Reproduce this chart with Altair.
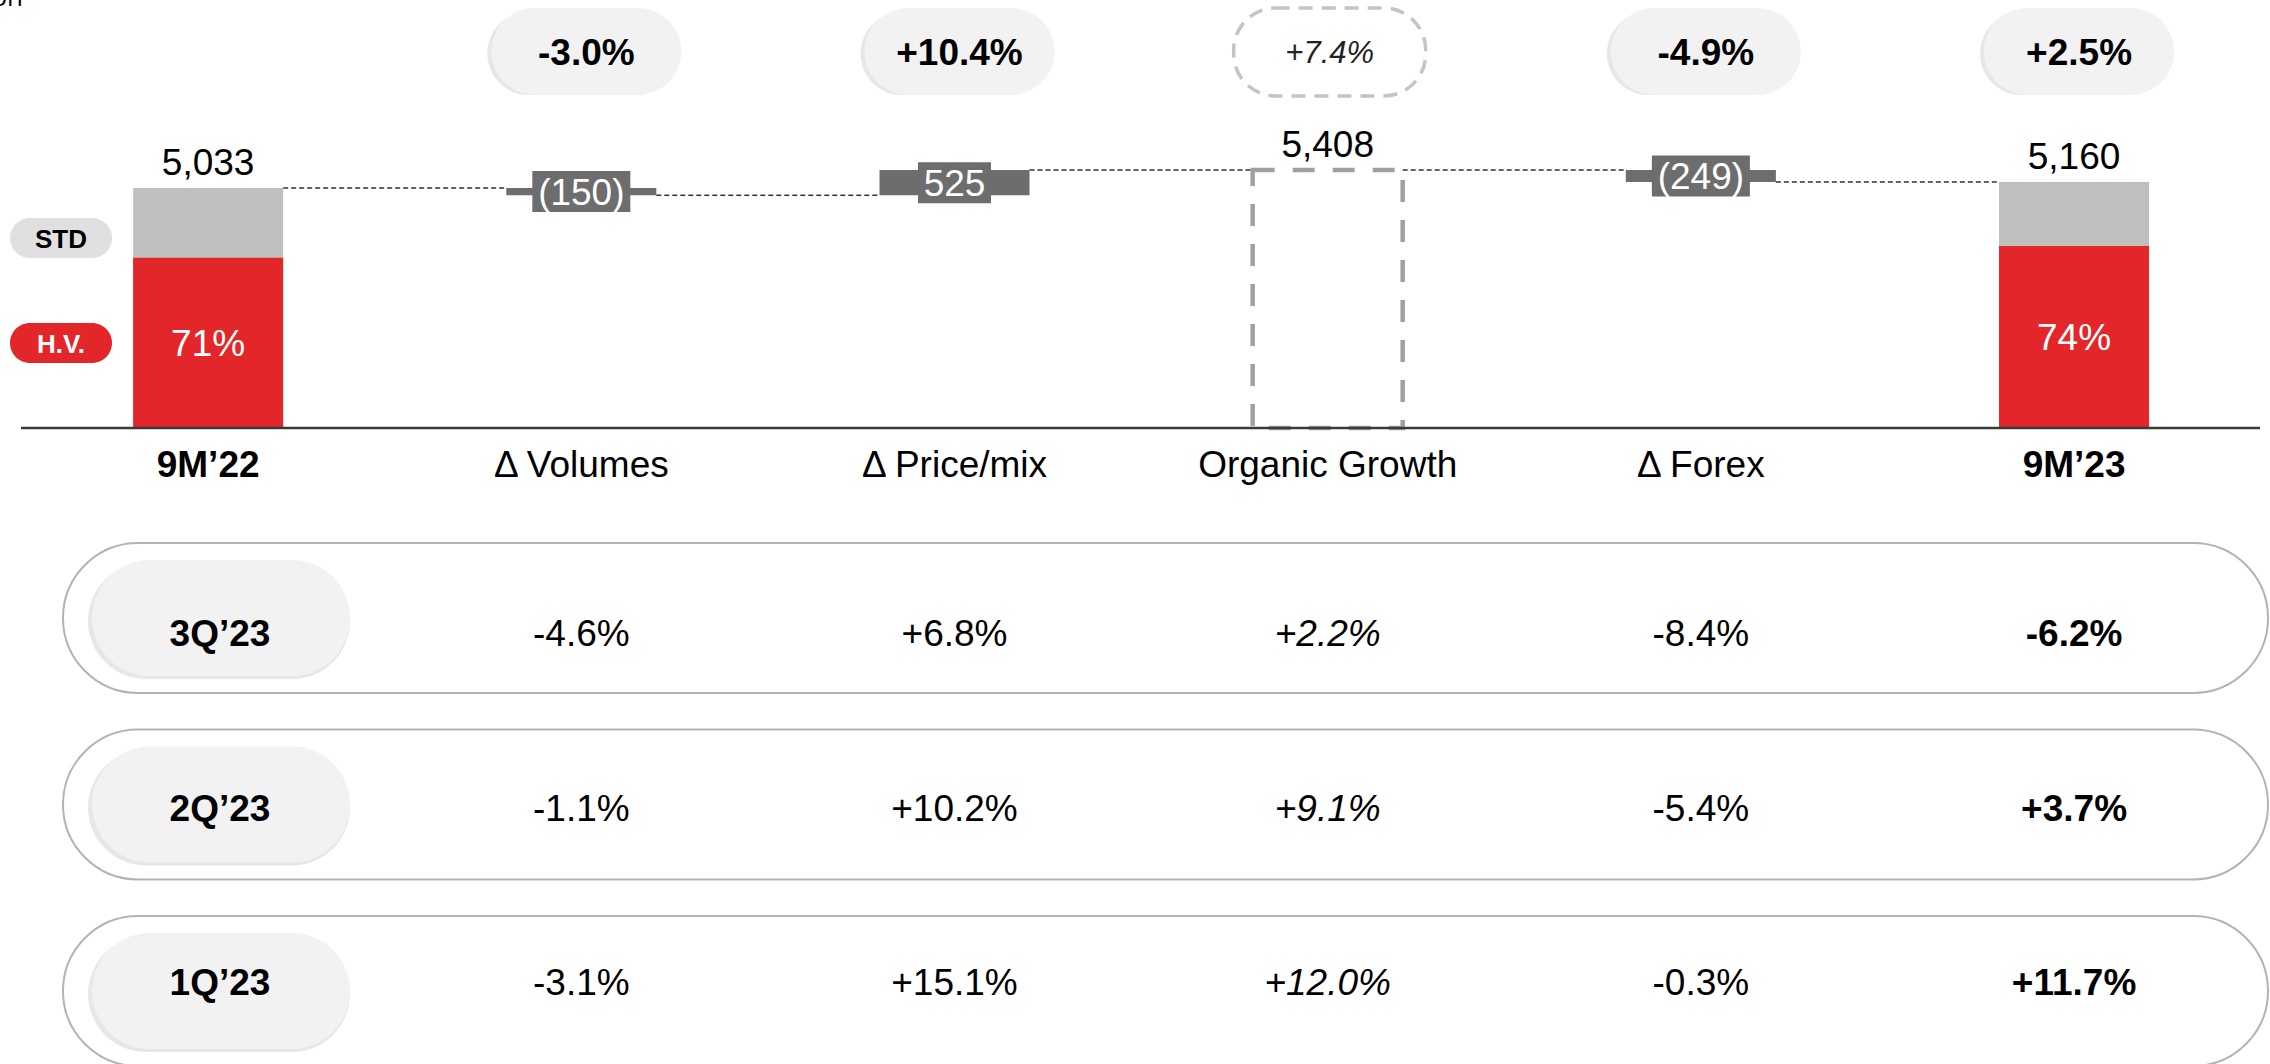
import altair as alt
import pandas as pd

# Revenue bridge (€ million)
categories = ["9M’22", "Δ Volumes", "Δ Price/mix", "Organic Growth", "Δ Forex", "9M’23"]
kinds = ["total", "delta", "delta", "subtotal", "delta", "total"]
amounts = [5033, -150, 525, 5408, -249, 5160]
hv_share = {"9M’22": 0.71, "9M’23": 0.74}
growth = [None, -3.0, 10.4, 7.4, -4.9, 2.5]

# Quarterly breakdown
quarters = ["3Q’23", "2Q’23", "1Q’23"]
q_volumes = [-4.6, -1.1, -3.1]
q_price = [6.8, 10.2, 15.1]
q_organic = [2.2, 9.1, 12.0]
q_forex = [-8.4, -5.4, -0.3]
q_total = [-6.2, 3.7, 11.7]

FONT = "Liberation Sans, Arial, sans-serif"
RED = "#e32629"
GREY_STD = "#bfbfbf"
DARK = "#6d6d6d"
PILL = "#f2f2f2"
SHADOW = "#e7e7e7"

W, H = 2270, 1064
box_width = {3: 73, 5: 98}

# ---- waterfall table -------------------------------------------------------
rows = []
level = 0
for cat, kind, amt in zip(categories, kinds, amounts):
    if kind == "delta":
        start, end = level, level + amt
        label = f"({-amt:,})" if amt < 0 else f"{amt:,}"
    else:
        start, end = 0, amt
        label = f"{amt:,}"
    level = end
    share = hv_share.get(cat)
    rows.append(dict(cat=cat, kind=kind, start=start, end=end, label=label,
                     mid=(start + end) / 2,
                     hv_end=round(end * share) if share else None,
                     hv_label=f"{share:.0%}" if share else "",
                     boxw=box_width.get(len(label), 98)))
wf = pd.DataFrame(rows)

conn = pd.DataFrame(dict(
    cat=categories[:-1],
    nxt=categories[1:],
    level=wf["end"].tolist()[:-1],
))

top = pd.DataFrame(dict(
    cat=[c for c, g in zip(categories, growth) if g is not None],
    txt=[f"{g:+.1f}%" for g in growth if g is not None],
))
top_solid = top[top["cat"] != "Organic Growth"]
top_dash = top[top["cat"] == "Organic Growth"]

table_cols = [categories[1], categories[2], categories[3], categories[4], categories[5]]
table_vals = [q_volumes, q_price, q_organic, q_forex, q_total]
trows = []
for col, vals in zip(table_cols, table_vals):
    for q, v in zip(quarters, vals):
        trows.append(dict(quarter=q, cat=col, txt=f"{v:+.1f}%"))
tbl = pd.DataFrame(trows)
qdf = pd.DataFrame(dict(quarter=quarters))

# ---- scales ----------------------------------------------------------------
xscale = alt.Scale(domain=categories, paddingInner=0.598, paddingOuter=0.3404, align=0.524)
yscale = alt.Scale(domain=[-13335, 8975], nice=False, zero=False)
qscale = alt.Scale(domain=quarters, range=[543, 1066], paddingInner=0.1957, paddingOuter=0)

X = alt.X("cat:N", scale=xscale, axis=None)
XN = alt.X2("nxt:N")


def Y(field):
    return alt.Y(f"{field}:Q", scale=yscale, axis=None)


QY = alt.Y("quarter:N", scale=qscale, axis=None)

layers = []

# ---- quarterly table -------------------------------------------------------
layers.append(alt.Chart(qdf).mark_bar(cornerRadius=75, fill="white", stroke="#b3b3b3", strokeWidth=2)
              .encode(x=alt.value(63), x2=alt.value(2268), y=QY))
layers.append(alt.Chart(qdf).mark_bar(height=116, cornerRadius=58, color=SHADOW, xOffset=-4, yOffset=3)
              .encode(x=alt.value(92), x2=alt.value(350), y=QY))
layers.append(alt.Chart(qdf).mark_bar(height=116, cornerRadius=58, color=PILL)
              .encode(x=alt.value(92), x2=alt.value(350), y=QY))
layers.append(alt.Chart(qdf).mark_text(font=FONT, fontSize=37, fontWeight="bold", color="black",
                                       baseline="alphabetic", dy=16)
              .encode(x=alt.value(220), y=QY, text="quarter:N"))
for cond, style, weight in [
    (["Δ Volumes", "Δ Price/mix", "Δ Forex"], "normal", "normal"),
    (["Organic Growth"], "italic", "normal"),
    (["9M’23"], "normal", "bold"),
]:
    layers.append(alt.Chart(tbl[tbl["cat"].isin(cond)])
                  .mark_text(font=FONT, fontSize=37, fontStyle=style, fontWeight=weight,
                             color="black", baseline="alphabetic", dy=16)
                  .encode(x=X, y=QY, text="txt:N"))

# ---- growth pills ----------------------------------------------------------
layers.append(alt.Chart(top_solid).mark_bar(width=190, cornerRadius=43.5, color=SHADOW, xOffset=1, yOffset=4)
              .encode(x=X, y=alt.value(8), y2=alt.value(95)))
layers.append(alt.Chart(top_solid).mark_bar(width=190, cornerRadius=43.5, color=PILL, xOffset=5)
              .encode(x=X, y=alt.value(8), y2=alt.value(95)))
layers.append(alt.Chart(top_solid).mark_text(font=FONT, fontSize=37, fontWeight="bold", color="black",
                                             baseline="alphabetic", xOffset=5)
              .encode(x=X, y=alt.value(65), text="txt:N"))
layers.append(alt.Chart(top_dash).mark_bar(width=192, cornerRadius=42, filled=False, color="#c4c4c4",
                                           strokeWidth=3.5, strokeDash=[14, 9], xOffset=2)
              .encode(x=X, y=alt.value(8), y2=alt.value(96)))
layers.append(alt.Chart(top_dash).mark_text(font=FONT, fontSize=31, fontStyle="italic", color="#222222",
                                            baseline="alphabetic", xOffset=2)
              .encode(x=X, y=alt.value(63), text="txt:N"))

# ---- waterfall -------------------------------------------------------------
totals = wf[wf["kind"] == "total"]
deltas = wf[wf["kind"] == "delta"]
subtot = wf[wf["kind"] == "subtotal"]
levels = wf[wf["kind"] != "delta"]

layers.append(alt.Chart(conn).mark_rule(color="#333333", strokeWidth=1.5, strokeDash=[5, 3],
                                        xOffset=75, x2Offset=-75)
              .encode(x=X, x2=XN, y=Y("level")))
layers.append(alt.Chart(totals).mark_bar(color=GREY_STD).encode(x=X, y=Y("start"), y2="end:Q"))
layers.append(alt.Chart(totals).mark_bar(color=RED).encode(x=X, y=Y("start"), y2="hv_end:Q"))
layers.append(alt.Chart(deltas).mark_bar(color=DARK).encode(x=X, y=Y("start"), y2="end:Q"))
layers.append(alt.Chart(subtot).mark_bar(filled=False, color="#a0a0a0", strokeWidth=4.5, strokeDash=[22, 18])
              .encode(x=X, y=Y("start"), y2="end:Q"))
layers.append(alt.Chart(deltas).mark_tick(thickness=41, color=DARK, opacity=1, orient="horizontal")
              .encode(x=X, y=Y("mid"), size=alt.Size("boxw:Q", scale=None, legend=None)))
layers.append(alt.Chart(deltas).mark_text(font=FONT, fontSize=37, color="white", baseline="alphabetic", dy=13)
              .encode(x=X, y=Y("mid"), text="label:N"))
layers.append(alt.Chart(levels).mark_text(font=FONT, fontSize=37, color="black", baseline="alphabetic", dy=-13)
              .encode(x=X, y=Y("end"), text="label:N"))
layers.append(alt.Chart(totals).transform_calculate(hv_mid="datum.hv_end / 2")
              .mark_text(font=FONT, fontSize=37, color="white", baseline="alphabetic", dy=13)
              .encode(x=X, y=Y("hv_mid"), text="hv_label:N"))

# baseline
layers.append(alt.Chart(pd.DataFrame({"z": [0]})).mark_rule(color="#3a3a3a", strokeWidth=2.5)
              .encode(x=alt.value(21), x2=alt.value(2260), y=alt.YDatum(0, scale=yscale, axis=None)))

# category labels
cat_df = pd.DataFrame(dict(cat=categories, kind=kinds))
for is_total, weight in [(True, "bold"), (False, "normal")]:
    sub = cat_df[(cat_df["kind"] == "total") == is_total]
    layers.append(alt.Chart(sub).mark_text(font=FONT, fontSize=37, fontWeight=weight, color="black",
                                           baseline="alphabetic")
                  .encode(x=X, y=alt.value(477), text="cat:N"))

# segment legend
legend = [("STD", 218, 258, "#e0e0e0", "black"), ("H.V.", 323, 363, RED, "white")]
for name, y0, y1, fill, ink in legend:
    d = pd.DataFrame({"name": [name]})
    layers.append(alt.Chart(d).mark_bar(cornerRadius=20, color=fill)
                  .encode(x=alt.value(10), x2=alt.value(112), y=alt.value(y0), y2=alt.value(y1)))
    layers.append(alt.Chart(d).mark_text(font=FONT, fontSize=26, fontWeight="bold", color=ink,
                                         baseline="alphabetic")
                  .encode(x=alt.value(61), y=alt.value((y0 + y1) / 2 + 9.5), text="name:N"))

# unit note
layers.append(alt.Chart(pd.DataFrame({"t": ["€ million"]}))
              .mark_text(font="Open Sans, sans-serif", fontSize=26, color="black", align="right",
                         baseline="alphabetic")
              .encode(x=alt.value(23), y=alt.value(6), text="t:N"))

chart = (
    alt.layer(*layers)
    .resolve_scale(y="independent")
    .properties(width=W, height=H, autosize="none", padding=0, background="white")
    .configure_view(stroke=None)
)

chart.save("out.html", embed_options={"renderer": "svg", "actions": False})
